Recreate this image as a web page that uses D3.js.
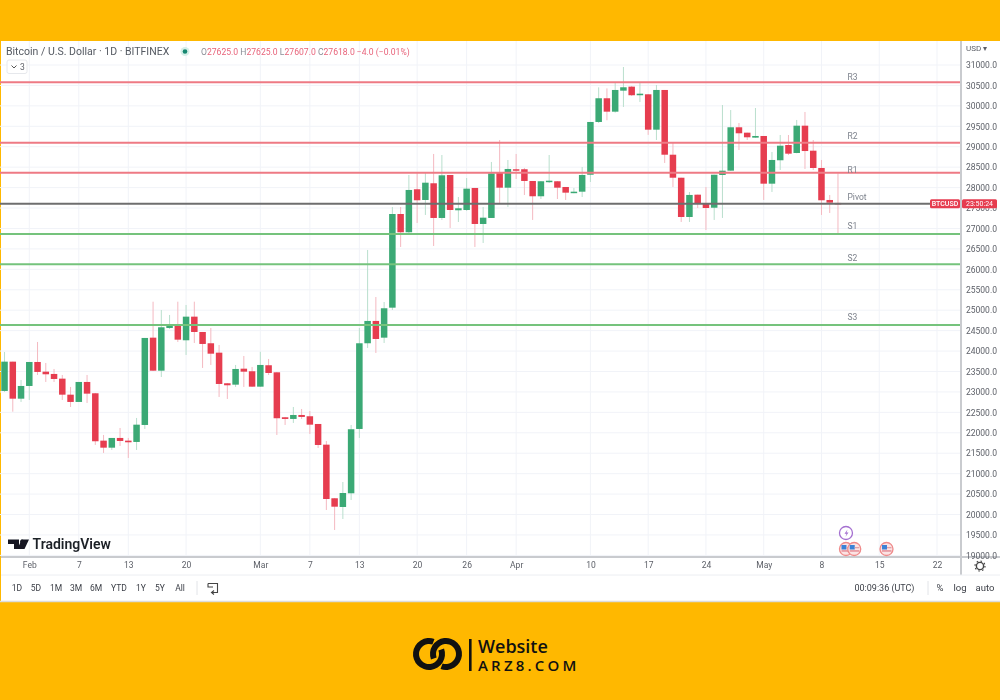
<!DOCTYPE html>
<html><head><meta charset="utf-8">
<script src="https://cdn.jsdelivr.net/npm/d3@7/dist/d3.min.js"></script>
<style>html,body{margin:0;padding:0;background:#FFB800;overflow:hidden}svg{display:block}text{font-family:Roboto,"Open Sans",sans-serif}</style>
</head><body><svg id="c" width="1000" height="700"></svg>
<script>
const firstDay = "2023-01-29";
const opens = [23024,23741,22835,23146,23733,23496,23440,23325,22933,22755,23244,22967,21808,21636,21874,21808,21776,22192,24328,23520,24565,24622,24264,24842,24467,24191,23961,23212,23178,23569,23506,23129,23653,23480,22380,22339,22436,22405,22216,21710,20398,20185,20520,22094,24191,24737,24328,25062,27354,26907,27959,27697,28106,27257,28309,27445,27452,27991,27110,27257,28365,27998,28449,28449,28162,27788,28137,28155,28015,27868,27900,28315,29606,30186,29858,30372,30470,30260,30283,29417,30389,28805,28242,27281,27827,27599,27508,28309,28414,29476,29344,29222,29263,28096,28669,29042,28847,29515,28903,28480,27697,27625];
const closes = [23741,22835,23146,23733,23489,23432,23317,22933,22755,23244,22958,21793,21636,21874,21800,21768,22199,24321,23520,24582,24627,24279,24842,24467,24174,23936,23195,23163,23562,23496,23129,23660,23464,22356,22339,22436,22388,22199,21702,20380,20192,20527,22087,24191,24737,24296,25047,27354,26907,27942,27690,28120,27257,28301,27452,27494,27974,27110,27264,28349,27998,28456,28424,28162,27788,28155,28169,27998,27876,27900,28309,29606,30186,29858,30389,30455,30260,30298,29417,30389,28805,28242,27281,27820,27599,27501,28315,28414,29476,29329,29231,29263,28096,28676,29025,28830,29515,28895,28480,27690,27631,27618];
const highs = [23978,23741,23293,23733,24223,23709,23562,23415,23122,23244,23415,22975,21947,21874,22118,21874,22363,24321,25208,25005,24883,25208,25128,25208,24467,24565,24149,23219,23660,23880,23611,23983,23807,23489,22388,22632,22583,22534,22216,21800,20405,20796,22192,24565,26474,25323,25201,27526,27526,28309,28358,28382,28823,28798,28309,27770,28235,27991,27526,28627,29165,28676,28823,28480,28162,28162,28798,28162,28015,27991,28504,29606,30453,30428,30560,30951,30487,30585,30291,30511,30389,29091,28242,27893,27827,28015,28315,30021,29898,29581,29344,29948,29263,28872,29287,29287,29655,29851,29165,28676,27819,28350];
const lows = [22999,22517,22755,22803,23415,23244,23244,22803,22632,22755,22730,21702,21507,21580,21678,21384,21580,22094,23513,23366,24541,24223,23905,24198,23587,23660,22877,22828,23122,23122,23122,23122,23415,21947,22192,22241,22339,21972,21629,20111,19622,19891,20356,21874,24076,23954,24198,25005,26547,26889,27134,27330,26571,27208,27012,27159,27428,26547,26645,27257,27624,27526,28211,27819,27208,27721,28113,27721,27697,27861,27770,28137,29581,29648,29834,29973,30242,30095,29290,29165,28603,28015,27159,27159,27501,26963,27208,27257,28407,28920,29165,29214,27697,27893,28431,28798,28839,28456,28431,27330,27379,26865];

const levelNames = ["R3","R2","R1","Pivot","S1","S2","S3"];
const levelValues = [30576,29100,28365,27607,26865,26124,24640];
const levelColors = ["#ee7a84","#ee7a84","#ee7a84","#6e6e6e","#74c37c","#74c37c","#74c37c"];
const priceTicks = [19000,19500,20000,20500,21000,21500,22000,22500,23000,23500,24000,24500,25000,25500,26000,26500,27000,27500,28000,28500,29000,29500,30000,30500,31000];
const timeTickDates = ["2023-02-01","2023-02-07","2023-02-13","2023-02-20","2023-03-01","2023-03-07","2023-03-13","2023-03-20","2023-03-26","2023-04-01","2023-04-10","2023-04-17","2023-04-24","2023-05-01","2023-05-08","2023-05-15","2023-05-22"];
const timeTickLabels = ["Feb","7","13","20","Mar","7","13","20","26","Apr","10","17","24","May","8","15","22"];
const rangeButtons = ["1D","5D","1M","3M","6M","YTD","1Y","5Y","All"];
const rangeButtonX = [17,36,56,76,96,119,141,160,180];
const eventDates = ["2023-05-10","2023-05-11","2023-05-16"];

const GREEN="#3aa974", RED="#e63c50", GRID="#f1f3f8", TXT="#5d6068";
const pd = s => new Date(s+"T00:00:00Z");
const x = d3.scaleUtc().domain([pd("2023-02-07"),pd("2023-05-22")]).range([78.8,937]);
const y = d3.scaleLinear().domain([19000,31000]).range([555.4,65]);
const days = opens.map((_,i)=>d3.utcDay.offset(pd(firstDay),i));
const W=961, AXY=557;

const svg=d3.select("#c");
const defs=svg.append("defs");
defs.append("filter").attr("id","soft").attr("x","-2%").attr("y","-2%").attr("width","104%").attr("height","104%")
  .append("feGaussianBlur").attr("stdDeviation",0.55);
defs.append("clipPath").attr("id","plot").append("rect").attr("x",0).attr("y",41).attr("width",W).attr("height",AXY-41);

const root=svg.append("g").attr("filter","url(#soft)");
root.append("rect").attr("x",1).attr("y",41).attr("width",999).attr("height",561).attr("fill","#fff");

// grid
const plot=root.append("g").attr("clip-path","url(#plot)");
plot.append("g").selectAll("line").data(priceTicks).join("line")
  .attr("x1",0).attr("x2",W).attr("y1",d=>y(d)).attr("y2",d=>y(d)).attr("stroke",GRID);
plot.append("g").selectAll("line").data(timeTickDates).join("line")
  .attr("x1",d=>x(pd(d))).attr("x2",d=>x(pd(d))).attr("y1",41).attr("y2",AXY).attr("stroke",GRID);

// candles
const idx=d3.range(opens.length);
const col=i=>closes[i]>=opens[i]?GREEN:RED;
plot.append("g").selectAll("line").data(idx).join("line")
  .attr("x1",i=>x(days[i])).attr("x2",i=>x(days[i]))
  .attr("y1",i=>y(highs[i])).attr("y2",i=>y(lows[i]))
  .attr("stroke",i=>closes[i]>=opens[i]?"#b9dfcd":"#f4b9c1").attr("stroke-width",1);
plot.append("g").selectAll("rect").data(idx).join("rect")
  .attr("x",i=>x(days[i])-3.25).attr("width",6.5)
  .attr("y",i=>y(Math.max(opens[i],closes[i])))
  .attr("height",i=>Math.max(1.5,Math.abs(y(opens[i])-y(closes[i]))))
  .attr("fill",col);

// levels
plot.append("g").selectAll("line").data(levelValues).join("line")
  .attr("x1",0).attr("x2",W).attr("y1",d=>y(d)).attr("y2",d=>y(d))
  .attr("stroke",(d,i)=>levelColors[i]).attr("stroke-width",2);
const labelDy=[-2.5,-3.5,0.5,-3.5,-4.5,-3,-5];
root.append("g").selectAll("text").data(levelNames).join("text")
  .attr("x",847.5)
  .attr("y",(d,i)=>y(levelValues[i])+labelDy[i]).text(d=>d)
  .attr("font-size",8.5).attr("fill","#7d828c");

// frames
root.append("line").attr("x1",961).attr("x2",961).attr("y1",41).attr("y2",575).attr("stroke","#c9cbcf").attr("stroke-width",2);
root.append("line").attr("x1",1).attr("x2",1000).attr("y1",AXY).attr("y2",AXY).attr("stroke","#c9cbcf").attr("stroke-width",2);
root.append("line").attr("x1",1).attr("x2",1000).attr("y1",575).attr("y2",575).attr("stroke","#eceef2");
root.append("line").attr("x1",0).attr("x2",1000).attr("y1",601.5).attr("y2",601.5).attr("stroke","#dcdcdc").attr("stroke-width",1.5);

// axes
const ay=root.append("g").attr("transform","translate(961,0)")
  .call(d3.axisRight(y).tickValues(priceTicks).tickFormat(d3.format(".1f")).tickSize(0).tickPadding(5));
ay.select(".domain").remove();
ay.selectAll("text").attr("font-size",8.5).attr("fill",TXT).style("font-family","Roboto,sans-serif");
const ax=root.append("g").attr("transform","translate(0,"+AXY+")")
  .call(d3.axisBottom(x).tickValues(timeTickDates.map(pd)).tickFormat((d,i)=>timeTickLabels[i]).tickSize(0).tickPadding(5));
ax.select(".domain").remove();
ax.selectAll("text").attr("font-size",8.5).attr("fill",TXT).style("font-family","Roboto,sans-serif");

root.append("text").attr("x",966).attr("y",51).text("USD ▾").attr("font-size",8).attr("fill",TXT);

// price tag
const tagY=y(levelValues[3]);
root.append("rect").attr("x",930).attr("y",tagY-4.5).attr("width",30).attr("height",9).attr("rx",1.5).attr("fill",RED);
root.append("rect").attr("x",962).attr("y",tagY-4.5).attr("width",35).attr("height",9).attr("rx",1.5).attr("fill",RED);
root.append("text").attr("x",945).attr("y",tagY+2.8).attr("text-anchor","middle").text("BTCUSD").attr("font-size",7).attr("font-weight",500).attr("fill","#fff");
root.append("text").attr("x",979.5).attr("y",tagY+2.8).attr("text-anchor","middle").text("23:50:24").attr("font-size",7).attr("fill","#fff");

// header
root.append("text").attr("x",6).attr("y",55).text("Bitcoin / U.S. Dollar · 1D · BITFINEX").attr("font-size",10.5).attr("fill","#555a62");
root.append("circle").attr("cx",185).attr("cy",51.5).attr("r",4.5).attr("fill","#d5efe8");
root.append("circle").attr("cx",185).attr("cy",51.5).attr("r",2.3).attr("fill","#12876f");
const ohlc=root.append("text").attr("x",201).attr("y",55).attr("font-size",8.6).attr("fill","#e8637a");
[["O","#8a8e96"],["27625.0 ",null],["H","#8a8e96"],["27625.0 ",null],["L","#8a8e96"],["27607.0 ",null],["C","#8a8e96"],["27618.0 ",null],["−4.0 (−0.01%)",null]]
 .forEach(([t,c])=>{const s=ohlc.append("tspan").text(t); if(c)s.attr("fill",c);});
root.append("rect").attr("x",7).attr("y",60).attr("width",20).attr("height",13.5).attr("rx",2).attr("fill","#fff").attr("stroke","#e6e8ec");
root.append("path").attr("d","M11.5 65.5l2.5 2.5 2.5-2.5").attr("fill","none").attr("stroke","#555").attr("stroke-width",1);
root.append("text").attr("x",20).attr("y",70).text("3").attr("font-size",8.5).attr("fill",TXT);

// TradingView logo
root.append("path").attr("d","M8 539.5h11v9.5h-5v-5h-6zM21.5 539.5h7.5l-4.5 9.5h-7z").attr("fill","#131722");
root.append("circle").attr("cx",22).attr("cy",541.5).attr("r",1.9).attr("fill","#131722");
root.append("text").attr("x",32.5).attr("y",549).text("TradingView").attr("font-size",14).attr("font-weight",600).attr("fill","#1d2028");

// events
const evY=[549,549,549];
root.append("circle").attr("cx",x(pd(eventDates[0]))+8).attr("cy",533).attr("r",6.5).attr("fill","#fff").attr("stroke","#a46fd0").attr("stroke-width",1.3);
root.append("path").attr("d","M847.5 529.5l-3 4.2h2l-1 3 3-4.2h-2z").attr("fill","#a46fd0");
eventDates.forEach((d,i)=>{
  const cx=x(pd(d))+[8,8,-1][i], cy=evY[i];
  root.append("circle").attr("cx",cx).attr("cy",cy).attr("r",6.5).attr("fill","#fbe3e3").attr("stroke","#ef8a8a").attr("stroke-width",1.3);
  root.append("rect").attr("x",cx-4.5).attr("y",cy-4).attr("width",5).attr("height",4.5).attr("fill","#3b82d6");
  root.append("rect").attr("x",cx+.5).attr("y",cy-2).attr("width",4.5).attr("height",1.3).attr("fill","#e0a0a8");
  root.append("rect").attr("x",cx-4.5).attr("y",cy+1.3).attr("width",9.5).attr("height",1.3).attr("fill","#e0808c");
});

// gear
root.append("circle").attr("cx",980).attr("cy",566).attr("r",3.6).attr("fill","none").attr("stroke","#444").attr("stroke-width",1.4);
root.append("circle").attr("cx",980).attr("cy",566).attr("r",5).attr("fill","none").attr("stroke","#444").attr("stroke-width",1.2).attr("stroke-dasharray","1.6 2.3");

// toolbar
root.append("g").selectAll("text").data(rangeButtons).join("text")
  .attr("x",(d,i)=>rangeButtonX[i]).attr("y",591).attr("text-anchor","middle").text(d=>d).attr("font-size",8.5).attr("fill","#3d4048");
root.append("line").attr("x1",197).attr("x2",197).attr("y1",581).attr("y2",595).attr("stroke","#e2e4e8");
root.append("path").attr("d","M208 583.5h9.5v9h-6M208 583.5v3.5h5M214 590.5l-2.5 2 2.5 2").attr("fill","none").attr("stroke","#444").attr("stroke-width",1.1);
root.append("text").attr("x",854.5).attr("y",591).text("00:09:36 (UTC)").attr("font-size",9).attr("fill","#3d4048");
root.append("line").attr("x1",928).attr("x2",928).attr("y1",581).attr("y2",595).attr("stroke","#e2e4e8");
[["%",940],["log",960],["auto",985]].forEach(([t,px])=>root.append("text").attr("x",px).attr("y",591).attr("text-anchor","middle").text(t).attr("font-size",9.5).attr("fill","#3d4048"));

// brand
const brand=svg.append("g").attr("transform","translate(0,654)");
const ring=d3.arc().innerRadius(10).outerRadius(16);
const deg=Math.PI/180;
brand.append("path").attr("transform","translate(429,0)").attr("fill","#111").attr("d",ring({startAngle:70*deg,endAngle:380*deg}));
brand.append("path").attr("transform","translate(446,0)").attr("fill","#111").attr("d",ring({startAngle:250*deg,endAngle:560*deg}));
brand.append("rect").attr("x",469).attr("y",-15).attr("width",2.6).attr("height",32).attr("fill","#111");
brand.append("text").attr("x",478).attr("y",-1.5).text("Website").attr("font-size",18).attr("font-weight",600).attr("fill","#111").style("font-family","'Open Sans',sans-serif");
brand.append("text").attr("x",478).attr("y",16.5).text("ARZ8.COM").attr("font-size",15).attr("font-weight",600).attr("letter-spacing",3.2).attr("fill","#111").style("font-family","'Open Sans',sans-serif");
</script></body></html>
